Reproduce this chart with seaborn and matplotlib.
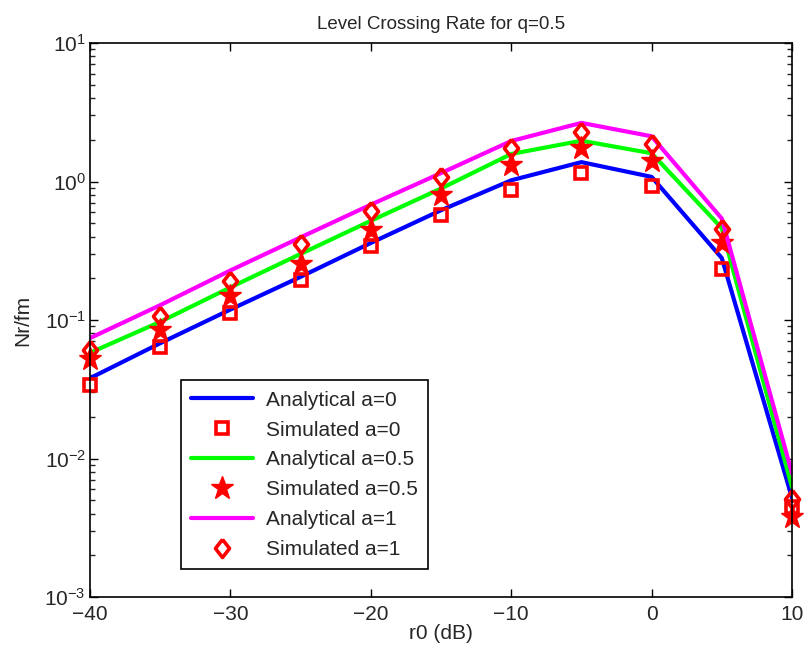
import matplotlib
matplotlib.use("Agg")
import matplotlib.pyplot as plt
import seaborn as sns
import pandas as pd
import numpy as np
from matplotlib.ticker import LogLocator, NullFormatter, FixedLocator

r0_db = [-40, -35, -30, -25, -20, -15, -10, -5, 0, 5, 10]
ana_a0 = [0.038, 0.068, 0.119, 0.205, 0.36, 0.62, 1.02, 1.38, 1.08, 0.28, 0.0052]
sim_a0 = [0.034, 0.064, 0.112, 0.195, 0.345, 0.57, 0.87, 1.15, 0.93, 0.232, 0.0045]
ana_a05 = [0.058, 0.097, 0.172, 0.30, 0.52, 0.89, 1.58, 1.97, 1.60, 0.46, 0.0062]
sim_a05 = [0.052, 0.084, 0.148, 0.252, 0.445, 0.80, 1.32, 1.75, 1.41, 0.36, 0.0038]
ana_a1 = [0.074, 0.128, 0.228, 0.395, 0.68, 1.15, 1.96, 2.65, 2.12, 0.54, 0.0078]
sim_a1 = [0.061, 0.107, 0.19, 0.355, 0.615, 1.08, 1.75, 2.28, 1.88, 0.455, 0.0051]

labels = ["Analytical a=0", "Simulated a=0", "Analytical a=0.5",
          "Simulated a=0.5", "Analytical a=1", "Simulated a=1"]
x_ticks = [-40, -30, -20, -10, 0, 10]

sns.set_style("ticks")
plt.rcParams['font.family'] = ['Liberation Sans', 'DejaVu Sans']
plt.rcParams['axes.unicode_minus'] = True
plt.rcParams['mathtext.fontset'] = 'custom'
plt.rcParams['mathtext.rm'] = 'Liberation Sans'
plt.rcParams['mathtext.it'] = 'Liberation Sans:italic'
plt.rcParams['mathtext.bf'] = 'Liberation Sans:bold'
plt.rcParams['mathtext.sf'] = 'Liberation Sans'

fig = plt.figure(figsize=(8.09, 6.58), dpi=100)
ax = fig.add_axes([90/809, 1-597/658, 702/809, 554/658])

df = pd.DataFrame({"x": r0_db, "a0": ana_a0, "s0": sim_a0, "a05": ana_a05,
                   "s05": sim_a05, "a1": ana_a1, "s1": sim_a1})

red = "#ff0000"
diamond = [(0, 1), (0.78, 0), (0, -1), (-0.78, 0), (0, 1)]

sns.lineplot(data=df, x="x", y="a0", ax=ax, color="#0000ff", lw=3.0,
             estimator=None, sort=False, label=labels[0])
sns.lineplot(data=df, x="x", y="s0", ax=ax, linestyle="none", marker="s",
             markersize=9, markerfacecolor="none", markeredgecolor=red,
             markeredgewidth=2.6, color=red, estimator=None, sort=False,
             label=labels[1], clip_on=False)
sns.lineplot(data=df, x="x", y="a05", ax=ax, color="#00ff00", lw=3.0,
             estimator=None, sort=False, label=labels[2])
sns.lineplot(data=df, x="x", y="s05", ax=ax, linestyle="none", marker="*",
             markersize=17, markerfacecolor=red, markeredgecolor=red,
             markeredgewidth=1, color=red, estimator=None, sort=False,
             label=labels[3], clip_on=False)
sns.lineplot(data=df, x="x", y="a1", ax=ax, color="#ff00ff", lw=3.0,
             estimator=None, sort=False, label=labels[4])
sns.lineplot(data=df, x="x", y="s1", ax=ax, linestyle="none", marker=diamond,
             markersize=13, markerfacecolor="none", markeredgecolor=red,
             markeredgewidth=2.6, color=red, estimator=None, sort=False,
             label=labels[5], clip_on=False)

ax.set_yscale("log")
ax.set_xlim(-40, 10)
ax.set_ylim(1e-3, 1e1)
ax.xaxis.set_major_locator(FixedLocator(x_ticks))
ax.set_xticklabels([f"\u2212{abs(v)}" if v < 0 else str(v) for v in x_ticks])
ax.yaxis.set_major_locator(LogLocator(base=10, numticks=10))
ax.yaxis.set_minor_locator(LogLocator(base=10, subs=np.arange(2, 10), numticks=20))
ax.yaxis.set_minor_formatter(NullFormatter())

ax.tick_params(axis="both", which="major", direction="in", length=6, width=1,
               labelsize=15, top=True, right=True, pad=6, color="black")
ax.tick_params(axis="y", which="major", pad=3)
ax.tick_params(axis="y", which="minor", direction="in", length=3.5, width=1,
               right=True, left=True)
for sp in ax.spines.values():
    sp.set_visible(True)
    sp.set_linewidth(1.2)
    sp.set_color("black")

ax.set_title("Level Crossing Rate for q=0.5", fontsize=13.5, pad=10)
ax.set_xlabel("r0 (dB)", fontsize=15, labelpad=0)
ax.set_ylabel("Nr/fm", fontsize=15, labelpad=9)

leg = ax.legend(loc="lower left", bbox_to_anchor=(0.129, 0.05), fontsize=15,
                frameon=True, fancybox=False, edgecolor="black",
                borderpad=0.5, labelspacing=0.52, handlelength=3.0,
                handletextpad=0.6, borderaxespad=0)
leg.get_frame().set_linewidth(1.2)
leg.get_frame().set_alpha(1)

fig.savefig("out.png", dpi=100)
